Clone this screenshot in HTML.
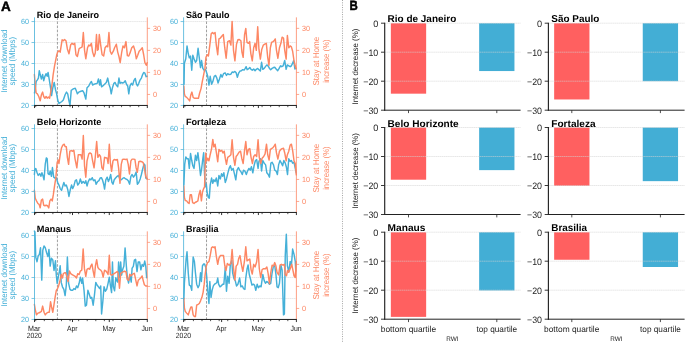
<!DOCTYPE html>
<html><head><meta charset="utf-8"><title>Figure</title>
<style>
html,body{margin:0;padding:0;background:#fff;}
body{width:685px;height:342px;overflow:hidden;}
svg{display:block;will-change:transform;text-rendering:geometricPrecision;font-family:"Liberation Sans",sans-serif;}
</style></head><body>
<svg width="685" height="342" viewBox="0 0 685 342">
<rect x="0" y="0" width="685" height="342" fill="#ffffff"/>
<text x="1.05" y="10.6" font-size="13.5" fill="#000" text-anchor="start" font-weight="bold" stroke="#000" stroke-width="0.5" stroke-linejoin="round">A</text>
<text x="0" y="9.9" font-size="13.5" font-weight="bold" stroke="#000" stroke-width="0.5" stroke-linejoin="round" transform="translate(349.45 0) scale(0.85 1)">B</text>
<line x1="34.5" y1="84.47" x2="147.3" y2="84.47" stroke="#d8d8d8" stroke-width="0.6" stroke-dasharray="1.5 0.4"/>
<line x1="34.5" y1="63.5" x2="147.3" y2="63.5" stroke="#d8d8d8" stroke-width="0.6" stroke-dasharray="1.5 0.4"/>
<line x1="34.5" y1="42.52" x2="147.3" y2="42.52" stroke="#d8d8d8" stroke-width="0.6" stroke-dasharray="1.5 0.4"/>
<line x1="34.5" y1="21.55" x2="147.3" y2="21.55" stroke="#d8d8d8" stroke-width="0.6" stroke-dasharray="1.5 0.4"/>
<line x1="57.43" y1="17.35" x2="57.43" y2="105.45" stroke="#808080" stroke-width="0.75" stroke-dasharray="2.6 1.5"/>
<polyline points="34.39,92.98 34.91,92.11 36.14,81.58 37.37,79.82 38.42,78.07 39.3,70.7 40.18,74.56 41.4,78.95 42.63,74.56 43.68,80.7 44.91,76.32 46.14,73.68 47.19,76.32 48.07,72.46 49.3,79.82 50.53,87.72 51.58,95.61 52.81,87.72 54.21,82.46 55.44,89.47 56.67,93.86 57.72,100.0 58.95,103.51 60.18,102.63 61.58,101.75 63.33,100.0 65.09,94.74 66.49,92.11 67.72,93.86 68.95,100.88 70.0,105.26 71.23,90.35 72.46,89.47 73.86,88.6 75.26,88.25 76.49,91.23 77.37,93.86 78.77,92.11 80.88,91.23 82.63,90.7 84.04,92.98 85.79,99.12 87.02,87.72 88.77,85.96 90.53,82.46 91.4,81.58 92.63,85.09 94.04,84.21 95.79,83.68 97.19,83.33 98.42,78.95 99.65,85.09 100.53,79.82 101.58,86.84 102.81,85.96 104.56,84.21 106.32,82.46 107.72,78.07 108.95,84.21 110.18,87.72 111.23,93.86 112.46,87.72 113.86,83.33 115.09,82.46 116.32,85.09 117.72,86.84 118.95,78.07 120.0,83.33 121.23,82.46 122.63,82.98 123.86,82.46 125.26,80.7 126.49,84.21 127.72,85.96 128.77,93.86 130.0,85.96 131.4,83.33 132.63,85.09 133.86,80.7 135.26,78.42 136.49,84.21 137.54,85.96 138.77,83.33 140.18,79.82 141.4,78.07 142.63,74.56 143.68,72.46 144.91,73.16 146.14,76.67 147.19,76.32" fill="none" stroke="#45b0d8" stroke-width="1.45" stroke-linejoin="round" stroke-linecap="round"/>
<polyline points="34.39,74.56 35.26,85.09 36.14,92.98 37.37,93.86 38.77,96.49 40.18,100.88 41.4,94.74 42.63,92.11 43.68,96.49 44.91,98.25 46.14,96.49 47.19,98.25 48.42,97.02 49.65,98.25 50.7,92.11 51.93,85.09 53.16,74.56 54.56,65.79 55.96,58.77 56.84,54.39 57.72,52.11 58.95,50.7 60.18,52.11 62.11,39.82 63.33,40.7 64.56,39.47 65.96,40.7 67.37,48.95 68.95,53.86 70.7,44.74 72.11,43.33 73.33,44.56 74.74,43.33 75.96,54.74 77.37,56.49 79.12,48.6 80.88,47.72 82.11,46.84 83.33,32.46 84.56,50.35 85.79,58.77 87.54,47.72 88.77,45.09 90.0,45.96 91.4,43.33 92.63,52.11 94.04,56.49 95.26,52.98 96.49,34.56 97.37,50.35 98.25,49.47 99.3,34.56 100.7,45.09 102.11,54.74 103.68,55.96 105.09,47.72 106.49,45.96 107.72,46.84 108.95,32.46 110.18,51.23 111.58,54.21 113.33,51.23 114.56,47.72 116.32,44.21 117.72,52.11 118.95,56.49 120.18,62.63 121.58,52.98 122.98,45.96 124.39,47.72 125.96,41.58 127.37,55.61 128.77,55.96 130.35,52.11 131.75,47.72 133.51,45.96 134.91,50.35 136.32,58.77 137.72,55.26 139.12,51.23 140.88,49.47 142.28,47.72 143.68,54.74 144.91,62.63 146.32,65.26 147.19,62.63" fill="none" stroke="#fd8764" stroke-width="1.45" stroke-linejoin="round" stroke-linecap="round"/>
<line x1="34.5" y1="17.35" x2="34.5" y2="105.45" stroke="#45b0d8" stroke-width="0.8"/>
<line x1="147.3" y1="17.35" x2="147.3" y2="105.45" stroke="#fd8764" stroke-width="0.8"/>
<line x1="34.0" y1="105.45" x2="147.70000000000002" y2="105.45" stroke="#1c1c1c" stroke-width="1.0"/>
<line x1="31.5" y1="105.45" x2="34.5" y2="105.45" stroke="#45b0d8" stroke-width="0.7"/>
<text x="28.95" y="108.25" font-size="7.6" fill="#45b0d8" text-anchor="end" textLength="8.0" lengthAdjust="spacingAndGlyphs">20</text>
<line x1="31.5" y1="84.47" x2="34.5" y2="84.47" stroke="#45b0d8" stroke-width="0.7"/>
<text x="28.95" y="87.27" font-size="7.6" fill="#45b0d8" text-anchor="end" textLength="8.0" lengthAdjust="spacingAndGlyphs">30</text>
<line x1="31.5" y1="63.5" x2="34.5" y2="63.5" stroke="#45b0d8" stroke-width="0.7"/>
<text x="28.95" y="66.3" font-size="7.6" fill="#45b0d8" text-anchor="end" textLength="8.0" lengthAdjust="spacingAndGlyphs">40</text>
<line x1="31.5" y1="42.52" x2="34.5" y2="42.52" stroke="#45b0d8" stroke-width="0.7"/>
<text x="28.95" y="45.32" font-size="7.6" fill="#45b0d8" text-anchor="end" textLength="8.0" lengthAdjust="spacingAndGlyphs">50</text>
<line x1="31.5" y1="21.55" x2="34.5" y2="21.55" stroke="#45b0d8" stroke-width="0.7"/>
<text x="28.95" y="24.35" font-size="7.6" fill="#45b0d8" text-anchor="end" textLength="8.0" lengthAdjust="spacingAndGlyphs">60</text>
<line x1="147.3" y1="94.44" x2="150.10000000000002" y2="94.44" stroke="#fd8764" stroke-width="0.7"/>
<text x="153.0" y="97.24" font-size="7.6" fill="#fd8764" text-anchor="start" textLength="4.1" lengthAdjust="spacingAndGlyphs">0</text>
<line x1="147.3" y1="72.41" x2="150.10000000000002" y2="72.41" stroke="#fd8764" stroke-width="0.7"/>
<text x="153.0" y="75.21" font-size="7.6" fill="#fd8764" text-anchor="start" textLength="8.0" lengthAdjust="spacingAndGlyphs">10</text>
<line x1="147.3" y1="50.39" x2="150.10000000000002" y2="50.39" stroke="#fd8764" stroke-width="0.7"/>
<text x="153.0" y="53.19" font-size="7.6" fill="#fd8764" text-anchor="start" textLength="8.0" lengthAdjust="spacingAndGlyphs">20</text>
<line x1="147.3" y1="28.36" x2="150.10000000000002" y2="28.36" stroke="#fd8764" stroke-width="0.7"/>
<text x="153.0" y="31.16" font-size="7.6" fill="#fd8764" text-anchor="start" textLength="8.0" lengthAdjust="spacingAndGlyphs">30</text>
<line x1="34.5" y1="105.45" x2="34.5" y2="108.05" stroke="#1c1c1c" stroke-width="0.9"/>
<line x1="72.51" y1="105.45" x2="72.51" y2="108.05" stroke="#1c1c1c" stroke-width="0.9"/>
<line x1="109.29" y1="105.45" x2="109.29" y2="108.05" stroke="#1c1c1c" stroke-width="0.9"/>
<line x1="147.3" y1="105.45" x2="147.3" y2="108.05" stroke="#1c1c1c" stroke-width="0.9"/>
<line x1="35.73" y1="105.45" x2="35.73" y2="107.15" stroke="#1c1c1c" stroke-width="0.75"/>
<line x1="44.31" y1="105.45" x2="44.31" y2="107.15" stroke="#1c1c1c" stroke-width="0.75"/>
<line x1="52.89" y1="105.45" x2="52.89" y2="107.15" stroke="#1c1c1c" stroke-width="0.75"/>
<line x1="61.47" y1="105.45" x2="61.47" y2="107.15" stroke="#1c1c1c" stroke-width="0.75"/>
<line x1="70.06" y1="105.45" x2="70.06" y2="107.15" stroke="#1c1c1c" stroke-width="0.75"/>
<line x1="78.64" y1="105.45" x2="78.64" y2="107.15" stroke="#1c1c1c" stroke-width="0.75"/>
<line x1="87.22" y1="105.45" x2="87.22" y2="107.15" stroke="#1c1c1c" stroke-width="0.75"/>
<line x1="95.8" y1="105.45" x2="95.8" y2="107.15" stroke="#1c1c1c" stroke-width="0.75"/>
<line x1="104.39" y1="105.45" x2="104.39" y2="107.15" stroke="#1c1c1c" stroke-width="0.75"/>
<line x1="112.97" y1="105.45" x2="112.97" y2="107.15" stroke="#1c1c1c" stroke-width="0.75"/>
<line x1="121.55" y1="105.45" x2="121.55" y2="107.15" stroke="#1c1c1c" stroke-width="0.75"/>
<line x1="130.13" y1="105.45" x2="130.13" y2="107.15" stroke="#1c1c1c" stroke-width="0.75"/>
<line x1="138.72" y1="105.45" x2="138.72" y2="107.15" stroke="#1c1c1c" stroke-width="0.75"/>
<text x="36.8" y="17.9" font-size="9.2" fill="#000" text-anchor="start" font-weight="bold" textLength="62.3" lengthAdjust="spacingAndGlyphs">Rio de Janeiro</text>
<line x1="183.6" y1="84.47" x2="296.4" y2="84.47" stroke="#d8d8d8" stroke-width="0.6" stroke-dasharray="1.5 0.4"/>
<line x1="183.6" y1="63.5" x2="296.4" y2="63.5" stroke="#d8d8d8" stroke-width="0.6" stroke-dasharray="1.5 0.4"/>
<line x1="183.6" y1="42.52" x2="296.4" y2="42.52" stroke="#d8d8d8" stroke-width="0.6" stroke-dasharray="1.5 0.4"/>
<line x1="183.6" y1="21.55" x2="296.4" y2="21.55" stroke="#d8d8d8" stroke-width="0.6" stroke-dasharray="1.5 0.4"/>
<line x1="206.53" y1="17.35" x2="206.53" y2="105.45" stroke="#808080" stroke-width="0.75" stroke-dasharray="2.6 1.5"/>
<polyline points="184.04,84.21 184.39,63.16 185.79,58.77 187.02,45.96 188.25,53.51 189.3,57.89 190.53,56.14 191.75,70.18 192.81,55.26 194.04,58.77 195.44,62.28 196.67,60.53 198.07,48.25 199.3,57.89 200.53,67.54 201.58,60.53 202.81,68.42 204.21,70.18 205.44,69.3 206.67,72.81 207.72,76.32 208.95,85.09 210.18,76.32 211.58,84.21 212.81,81.58 214.21,76.32 215.61,75.44 216.84,78.07 218.07,82.98 219.47,78.95 220.88,74.56 222.11,77.19 223.51,73.68 225.09,72.81 226.49,75.44 227.72,73.68 229.12,74.56 230.88,74.21 232.28,71.93 233.51,72.46 234.91,71.4 236.14,72.81 237.37,77.19 238.77,72.81 240.0,71.05 241.4,70.7 242.63,69.65 244.04,70.18 245.26,68.42 246.14,66.67 247.19,69.65 248.42,68.95 249.82,67.54 251.05,69.3 252.28,70.18 253.68,68.95 255.09,70.7 256.32,69.3 257.72,68.42 258.95,69.65 260.35,71.05 261.58,62.28 262.81,69.3 264.21,68.42 265.44,66.67 266.84,64.91 268.25,66.14 269.47,68.42 270.7,69.65 272.11,68.42 273.51,67.54 274.74,67.19 276.14,68.95 277.72,70.7 279.12,68.42 280.53,65.79 281.75,66.67 283.16,65.79 284.74,60.53 286.14,69.3 287.37,64.91 288.77,65.79 290.18,66.67 291.4,65.79 292.63,63.16 293.68,60.53 294.91,68.95 295.79,68.42" fill="none" stroke="#45b0d8" stroke-width="1.45" stroke-linejoin="round" stroke-linecap="round"/>
<polyline points="183.86,85.96 184.39,93.86 185.26,96.49 186.67,97.37 188.25,99.12 189.65,100.88 190.88,94.74 191.93,92.11 193.16,97.37 194.39,98.25 195.79,98.25 197.19,98.25 198.42,98.25 199.65,92.98 201.05,88.6 202.28,81.58 203.68,74.56 204.91,68.42 205.96,57.37 207.19,54.74 208.42,55.96 209.82,45.09 211.23,33.68 212.46,32.46 213.68,33.68 215.09,32.46 216.32,45.09 217.72,54.74 218.95,38.95 220.35,38.07 221.75,36.32 223.33,34.56 224.74,47.72 226.14,58.25 227.72,41.58 229.47,40.7 230.88,45.09 232.11,21.4 233.51,50.35 234.91,60.88 236.49,44.21 237.89,39.82 239.3,39.47 240.88,40.7 241.93,52.11 243.16,57.37 244.56,34.56 245.79,28.42 247.02,42.46 248.42,43.33 249.65,41.58 250.88,53.86 252.28,60.88 253.68,47.72 255.09,43.33 256.32,50.35 257.72,26.67 258.95,49.47 260.35,59.12 261.75,49.47 263.33,45.09 264.74,44.21 266.32,43.33 267.72,57.37 268.95,65.26 270.35,47.72 271.58,42.46 272.98,41.58 274.21,40.7 275.26,38.95 276.49,50.35 277.89,58.25 279.47,47.72 280.88,43.33 282.11,37.19 283.51,38.07 284.74,50.35 286.14,59.12 287.37,35.44 288.77,47.72 290.18,45.96 291.4,46.84 292.63,51.23 294.04,60.88 295.26,66.14 296.32,68.77" fill="none" stroke="#fd8764" stroke-width="1.45" stroke-linejoin="round" stroke-linecap="round"/>
<line x1="183.6" y1="17.35" x2="183.6" y2="105.45" stroke="#45b0d8" stroke-width="0.8"/>
<line x1="296.4" y1="17.35" x2="296.4" y2="105.45" stroke="#fd8764" stroke-width="0.8"/>
<line x1="183.1" y1="105.45" x2="296.79999999999995" y2="105.45" stroke="#1c1c1c" stroke-width="1.0"/>
<line x1="180.6" y1="105.45" x2="183.6" y2="105.45" stroke="#45b0d8" stroke-width="0.7"/>
<text x="178.05" y="108.25" font-size="7.6" fill="#45b0d8" text-anchor="end" textLength="8.0" lengthAdjust="spacingAndGlyphs">20</text>
<line x1="180.6" y1="84.47" x2="183.6" y2="84.47" stroke="#45b0d8" stroke-width="0.7"/>
<text x="178.05" y="87.27" font-size="7.6" fill="#45b0d8" text-anchor="end" textLength="8.0" lengthAdjust="spacingAndGlyphs">30</text>
<line x1="180.6" y1="63.5" x2="183.6" y2="63.5" stroke="#45b0d8" stroke-width="0.7"/>
<text x="178.05" y="66.3" font-size="7.6" fill="#45b0d8" text-anchor="end" textLength="8.0" lengthAdjust="spacingAndGlyphs">40</text>
<line x1="180.6" y1="42.52" x2="183.6" y2="42.52" stroke="#45b0d8" stroke-width="0.7"/>
<text x="178.05" y="45.32" font-size="7.6" fill="#45b0d8" text-anchor="end" textLength="8.0" lengthAdjust="spacingAndGlyphs">50</text>
<line x1="180.6" y1="21.55" x2="183.6" y2="21.55" stroke="#45b0d8" stroke-width="0.7"/>
<text x="178.05" y="24.35" font-size="7.6" fill="#45b0d8" text-anchor="end" textLength="8.0" lengthAdjust="spacingAndGlyphs">60</text>
<line x1="296.4" y1="94.44" x2="299.2" y2="94.44" stroke="#fd8764" stroke-width="0.7"/>
<text x="302.1" y="97.24" font-size="7.6" fill="#fd8764" text-anchor="start" textLength="4.1" lengthAdjust="spacingAndGlyphs">0</text>
<line x1="296.4" y1="72.41" x2="299.2" y2="72.41" stroke="#fd8764" stroke-width="0.7"/>
<text x="302.1" y="75.21" font-size="7.6" fill="#fd8764" text-anchor="start" textLength="8.0" lengthAdjust="spacingAndGlyphs">10</text>
<line x1="296.4" y1="50.39" x2="299.2" y2="50.39" stroke="#fd8764" stroke-width="0.7"/>
<text x="302.1" y="53.19" font-size="7.6" fill="#fd8764" text-anchor="start" textLength="8.0" lengthAdjust="spacingAndGlyphs">20</text>
<line x1="296.4" y1="28.36" x2="299.2" y2="28.36" stroke="#fd8764" stroke-width="0.7"/>
<text x="302.1" y="31.16" font-size="7.6" fill="#fd8764" text-anchor="start" textLength="8.0" lengthAdjust="spacingAndGlyphs">30</text>
<line x1="183.6" y1="105.45" x2="183.6" y2="108.05" stroke="#1c1c1c" stroke-width="0.9"/>
<line x1="221.61" y1="105.45" x2="221.61" y2="108.05" stroke="#1c1c1c" stroke-width="0.9"/>
<line x1="258.39" y1="105.45" x2="258.39" y2="108.05" stroke="#1c1c1c" stroke-width="0.9"/>
<line x1="296.4" y1="105.45" x2="296.4" y2="108.05" stroke="#1c1c1c" stroke-width="0.9"/>
<line x1="184.83" y1="105.45" x2="184.83" y2="107.15" stroke="#1c1c1c" stroke-width="0.75"/>
<line x1="193.41" y1="105.45" x2="193.41" y2="107.15" stroke="#1c1c1c" stroke-width="0.75"/>
<line x1="201.99" y1="105.45" x2="201.99" y2="107.15" stroke="#1c1c1c" stroke-width="0.75"/>
<line x1="210.57" y1="105.45" x2="210.57" y2="107.15" stroke="#1c1c1c" stroke-width="0.75"/>
<line x1="219.16" y1="105.45" x2="219.16" y2="107.15" stroke="#1c1c1c" stroke-width="0.75"/>
<line x1="227.74" y1="105.45" x2="227.74" y2="107.15" stroke="#1c1c1c" stroke-width="0.75"/>
<line x1="236.32" y1="105.45" x2="236.32" y2="107.15" stroke="#1c1c1c" stroke-width="0.75"/>
<line x1="244.9" y1="105.45" x2="244.9" y2="107.15" stroke="#1c1c1c" stroke-width="0.75"/>
<line x1="253.49" y1="105.45" x2="253.49" y2="107.15" stroke="#1c1c1c" stroke-width="0.75"/>
<line x1="262.07" y1="105.45" x2="262.07" y2="107.15" stroke="#1c1c1c" stroke-width="0.75"/>
<line x1="270.65" y1="105.45" x2="270.65" y2="107.15" stroke="#1c1c1c" stroke-width="0.75"/>
<line x1="279.23" y1="105.45" x2="279.23" y2="107.15" stroke="#1c1c1c" stroke-width="0.75"/>
<line x1="287.82" y1="105.45" x2="287.82" y2="107.15" stroke="#1c1c1c" stroke-width="0.75"/>
<text x="185.9" y="17.9" font-size="9.2" fill="#000" text-anchor="start" font-weight="bold" textLength="43.5" lengthAdjust="spacingAndGlyphs">São Paulo</text>
<text x="6.8" y="61.1" font-size="8.4" fill="#45b0d8" text-anchor="middle" textLength="63.2" lengthAdjust="spacingAndGlyphs" transform="rotate(-90 6.8 61.1)">Internet download</text>
<text x="15.0" y="61.1" font-size="8.4" fill="#45b0d8" text-anchor="middle" textLength="48.6" lengthAdjust="spacingAndGlyphs" transform="rotate(-90 15.0 61.1)">speed (Mbps)</text>
<text x="319.5" y="61.1" font-size="8.5" fill="#fd8764" text-anchor="middle" textLength="48.8" lengthAdjust="spacingAndGlyphs" transform="rotate(-90 319.5 61.1)">Stay at Home</text>
<text x="328.9" y="61.1" font-size="8.5" fill="#fd8764" text-anchor="middle" textLength="43.5" lengthAdjust="spacingAndGlyphs" transform="rotate(-90 328.9 61.1)">increase (%)</text>
<line x1="34.5" y1="191.47" x2="147.3" y2="191.47" stroke="#d8d8d8" stroke-width="0.6" stroke-dasharray="1.5 0.4"/>
<line x1="34.5" y1="170.5" x2="147.3" y2="170.5" stroke="#d8d8d8" stroke-width="0.6" stroke-dasharray="1.5 0.4"/>
<line x1="34.5" y1="149.52" x2="147.3" y2="149.52" stroke="#d8d8d8" stroke-width="0.6" stroke-dasharray="1.5 0.4"/>
<line x1="34.5" y1="128.55" x2="147.3" y2="128.55" stroke="#d8d8d8" stroke-width="0.6" stroke-dasharray="1.5 0.4"/>
<line x1="57.43" y1="124.35" x2="57.43" y2="212.45" stroke="#808080" stroke-width="0.75" stroke-dasharray="2.6 1.5"/>
<polyline points="34.39,174.54 34.91,169.28 35.79,168.4 37.02,172.44 38.25,175.42 39.65,173.67 40.88,176.3 41.93,172.79 43.16,176.3 44.04,179.81 45.26,164.02 46.32,157.88 47.19,158.75 48.07,173.67 49.3,174.54 50.18,171.04 51.4,176.3 52.46,167.53 53.68,177.18 54.91,178.05 56.32,177.7 57.72,182.44 58.95,185.07 60.18,188.58 61.58,190.33 62.81,185.95 63.86,182.44 65.09,185.95 66.32,185.07 67.72,189.46 68.95,196.47 70.35,189.46 71.58,185.07 72.63,188.58 73.86,185.95 75.26,180.68 76.49,179.81 77.72,185.07 79.12,183.32 80.35,178.93 81.75,183.32 83.16,181.56 84.74,183.32 85.79,180.68 87.02,185.95 88.25,181.56 89.65,178.93 90.88,179.81 92.28,177.7 93.51,180.68 94.91,179.81 96.14,184.19 97.54,181.56 98.95,180.68 100.18,178.05 101.4,177.7 102.46,179.81 103.68,184.19 104.56,189.11 105.79,179.81 107.19,177.18 108.42,181.56 109.47,178.93 110.7,174.54 111.93,182.44 112.98,184.19 114.21,179.81 115.61,178.05 117.19,176.3 118.6,175.42 119.82,178.93 121.23,179.81 122.63,178.4 124.21,177.7 125.61,178.93 127.02,179.46 128.25,180.68 129.65,184.19 130.88,176.3 132.11,174.54 133.51,177.18 134.74,175.42 136.14,171.91 137.37,184.19 138.77,182.44 140.18,178.93 141.4,174.54 142.63,169.28 144.04,164.02 144.91,164.89 145.79,178.05 147.19,178.93" fill="none" stroke="#45b0d8" stroke-width="1.45" stroke-linejoin="round" stroke-linecap="round"/>
<polyline points="34.39,190.33 35.26,198.23 36.49,200.86 37.89,203.49 39.12,204.37 40.18,207.88 41.4,199.98 42.63,199.11 43.68,205.25 44.91,205.77 46.14,205.25 47.54,205.77 48.77,207.88 49.82,200.86 51.05,199.11 52.28,200.86 53.33,194.72 54.56,185.95 55.79,178.05 56.84,166.12 57.19,162.61 58.07,159.98 58.95,163.49 60.18,154.72 61.58,147.7 62.81,145.07 64.21,144.19 65.09,146.47 66.32,146.82 67.37,157.35 68.6,164.37 69.82,151.21 71.23,150.68 72.63,151.21 73.86,150.33 75.09,159.11 76.84,167.88 78.25,154.72 79.65,154.72 80.88,154.72 82.11,159.11 83.33,135.42 84.56,166.12 85.79,177.18 87.02,160.86 88.77,153.84 90.0,152.96 91.4,153.84 92.63,160.86 94.04,167.88 95.26,157.35 96.67,141.56 97.89,157.35 99.3,154.72 100.53,156.47 101.93,167.88 103.16,169.63 104.56,157.35 105.79,157.7 107.19,158.23 108.07,163.49 109.3,144.19 110.35,162.61 111.58,171.39 112.98,160.86 114.21,159.46 115.96,159.98 117.37,159.46 118.6,167.88 120.0,183.32 121.23,164.37 122.46,159.46 123.86,159.11 125.61,159.46 127.02,159.11 128.25,164.37 129.47,174.02 130.88,160.86 132.11,159.11 133.51,159.11 134.91,159.46 136.14,167.88 137.37,172.26 138.77,161.74 140.18,161.21 141.75,161.74 143.16,162.61 144.39,167.88 145.79,176.3 147.19,178.93" fill="none" stroke="#fd8764" stroke-width="1.45" stroke-linejoin="round" stroke-linecap="round"/>
<line x1="34.5" y1="124.35" x2="34.5" y2="212.45" stroke="#45b0d8" stroke-width="0.8"/>
<line x1="147.3" y1="124.35" x2="147.3" y2="212.45" stroke="#fd8764" stroke-width="0.8"/>
<line x1="34.0" y1="212.45" x2="147.70000000000002" y2="212.45" stroke="#1c1c1c" stroke-width="1.0"/>
<line x1="31.5" y1="212.45" x2="34.5" y2="212.45" stroke="#45b0d8" stroke-width="0.7"/>
<text x="28.95" y="215.25" font-size="7.6" fill="#45b0d8" text-anchor="end" textLength="8.0" lengthAdjust="spacingAndGlyphs">20</text>
<line x1="31.5" y1="191.47" x2="34.5" y2="191.47" stroke="#45b0d8" stroke-width="0.7"/>
<text x="28.95" y="194.27" font-size="7.6" fill="#45b0d8" text-anchor="end" textLength="8.0" lengthAdjust="spacingAndGlyphs">30</text>
<line x1="31.5" y1="170.5" x2="34.5" y2="170.5" stroke="#45b0d8" stroke-width="0.7"/>
<text x="28.95" y="173.3" font-size="7.6" fill="#45b0d8" text-anchor="end" textLength="8.0" lengthAdjust="spacingAndGlyphs">40</text>
<line x1="31.5" y1="149.52" x2="34.5" y2="149.52" stroke="#45b0d8" stroke-width="0.7"/>
<text x="28.95" y="152.32" font-size="7.6" fill="#45b0d8" text-anchor="end" textLength="8.0" lengthAdjust="spacingAndGlyphs">50</text>
<line x1="31.5" y1="128.55" x2="34.5" y2="128.55" stroke="#45b0d8" stroke-width="0.7"/>
<text x="28.95" y="131.35" font-size="7.6" fill="#45b0d8" text-anchor="end" textLength="8.0" lengthAdjust="spacingAndGlyphs">60</text>
<line x1="147.3" y1="201.44" x2="150.10000000000002" y2="201.44" stroke="#fd8764" stroke-width="0.7"/>
<text x="153.0" y="204.24" font-size="7.6" fill="#fd8764" text-anchor="start" textLength="4.1" lengthAdjust="spacingAndGlyphs">0</text>
<line x1="147.3" y1="179.41" x2="150.10000000000002" y2="179.41" stroke="#fd8764" stroke-width="0.7"/>
<text x="153.0" y="182.21" font-size="7.6" fill="#fd8764" text-anchor="start" textLength="8.0" lengthAdjust="spacingAndGlyphs">10</text>
<line x1="147.3" y1="157.39" x2="150.10000000000002" y2="157.39" stroke="#fd8764" stroke-width="0.7"/>
<text x="153.0" y="160.19" font-size="7.6" fill="#fd8764" text-anchor="start" textLength="8.0" lengthAdjust="spacingAndGlyphs">20</text>
<line x1="147.3" y1="135.36" x2="150.10000000000002" y2="135.36" stroke="#fd8764" stroke-width="0.7"/>
<text x="153.0" y="138.16" font-size="7.6" fill="#fd8764" text-anchor="start" textLength="8.0" lengthAdjust="spacingAndGlyphs">30</text>
<line x1="34.5" y1="212.45" x2="34.5" y2="215.04999999999998" stroke="#1c1c1c" stroke-width="0.9"/>
<line x1="72.51" y1="212.45" x2="72.51" y2="215.04999999999998" stroke="#1c1c1c" stroke-width="0.9"/>
<line x1="109.29" y1="212.45" x2="109.29" y2="215.04999999999998" stroke="#1c1c1c" stroke-width="0.9"/>
<line x1="147.3" y1="212.45" x2="147.3" y2="215.04999999999998" stroke="#1c1c1c" stroke-width="0.9"/>
<line x1="35.73" y1="212.45" x2="35.73" y2="214.14999999999998" stroke="#1c1c1c" stroke-width="0.75"/>
<line x1="44.31" y1="212.45" x2="44.31" y2="214.14999999999998" stroke="#1c1c1c" stroke-width="0.75"/>
<line x1="52.89" y1="212.45" x2="52.89" y2="214.14999999999998" stroke="#1c1c1c" stroke-width="0.75"/>
<line x1="61.47" y1="212.45" x2="61.47" y2="214.14999999999998" stroke="#1c1c1c" stroke-width="0.75"/>
<line x1="70.06" y1="212.45" x2="70.06" y2="214.14999999999998" stroke="#1c1c1c" stroke-width="0.75"/>
<line x1="78.64" y1="212.45" x2="78.64" y2="214.14999999999998" stroke="#1c1c1c" stroke-width="0.75"/>
<line x1="87.22" y1="212.45" x2="87.22" y2="214.14999999999998" stroke="#1c1c1c" stroke-width="0.75"/>
<line x1="95.8" y1="212.45" x2="95.8" y2="214.14999999999998" stroke="#1c1c1c" stroke-width="0.75"/>
<line x1="104.39" y1="212.45" x2="104.39" y2="214.14999999999998" stroke="#1c1c1c" stroke-width="0.75"/>
<line x1="112.97" y1="212.45" x2="112.97" y2="214.14999999999998" stroke="#1c1c1c" stroke-width="0.75"/>
<line x1="121.55" y1="212.45" x2="121.55" y2="214.14999999999998" stroke="#1c1c1c" stroke-width="0.75"/>
<line x1="130.13" y1="212.45" x2="130.13" y2="214.14999999999998" stroke="#1c1c1c" stroke-width="0.75"/>
<line x1="138.72" y1="212.45" x2="138.72" y2="214.14999999999998" stroke="#1c1c1c" stroke-width="0.75"/>
<text x="36.8" y="124.9" font-size="9.2" fill="#000" text-anchor="start" font-weight="bold" textLength="64.5" lengthAdjust="spacingAndGlyphs">Belo Horizonte</text>
<line x1="183.6" y1="191.47" x2="296.4" y2="191.47" stroke="#d8d8d8" stroke-width="0.6" stroke-dasharray="1.5 0.4"/>
<line x1="183.6" y1="170.5" x2="296.4" y2="170.5" stroke="#d8d8d8" stroke-width="0.6" stroke-dasharray="1.5 0.4"/>
<line x1="183.6" y1="149.52" x2="296.4" y2="149.52" stroke="#d8d8d8" stroke-width="0.6" stroke-dasharray="1.5 0.4"/>
<line x1="183.6" y1="128.55" x2="296.4" y2="128.55" stroke="#d8d8d8" stroke-width="0.6" stroke-dasharray="1.5 0.4"/>
<line x1="206.53" y1="124.35" x2="206.53" y2="212.45" stroke="#808080" stroke-width="0.75" stroke-dasharray="2.6 1.5"/>
<polyline points="183.86,185.07 184.74,164.02 185.79,157.0 187.02,158.75 188.25,158.75 189.3,168.4 190.53,153.49 191.75,160.51 192.81,165.77 194.04,168.4 195.44,155.25 196.67,160.51 197.89,152.61 199.3,164.02 200.53,175.42 201.58,169.28 202.81,158.75 203.68,152.61 204.56,174.54 205.44,186.82 206.32,184.19 207.19,192.96 208.42,197.7 209.3,198.23 210.18,185.07 211.58,178.05 212.81,183.32 213.86,179.81 215.09,181.56 216.32,178.05 217.72,185.95 218.95,175.42 220.35,178.93 221.58,173.67 222.63,176.3 223.86,172.79 225.26,182.44 226.49,178.93 227.72,173.67 229.12,168.4 230.35,165.77 231.75,170.16 233.16,168.4 234.39,173.67 235.79,179.81 237.02,170.16 238.42,167.53 239.65,170.16 241.05,171.91 242.28,174.54 243.51,170.16 244.91,171.04 246.32,174.54 247.54,171.04 248.95,168.4 250.18,170.16 251.4,166.65 252.81,172.79 254.04,165.77 255.44,160.51 256.67,159.63 258.07,168.4 258.95,161.39 260.35,158.75 261.58,171.04 262.81,160.51 264.21,163.14 265.61,164.89 266.84,172.79 268.25,174.54 269.47,177.18 270.88,163.14 272.11,162.26 273.51,164.89 274.74,170.16 276.14,171.04 277.37,174.54 278.6,164.89 280.0,160.51 281.4,163.14 282.63,165.77 283.86,160.51 285.26,163.14 286.49,167.53 287.54,174.54 288.77,158.75 290.18,161.39 291.4,160.51 292.63,163.14 294.04,162.26 295.26,168.4 296.32,172.79" fill="none" stroke="#45b0d8" stroke-width="1.45" stroke-linejoin="round" stroke-linecap="round"/>
<polyline points="183.86,185.95 184.39,197.35 185.26,200.51 186.67,200.86 187.89,202.61 189.12,203.49 190.18,194.72 191.4,194.72 192.63,202.61 194.04,203.49 195.44,202.26 196.67,201.74 197.89,200.86 198.95,194.72 200.18,190.33 201.4,200.86 202.46,192.09 203.68,188.58 204.56,186.82 205.09,169.28 205.79,152.96 206.67,160.86 207.72,158.23 208.95,160.86 210.18,154.72 211.58,148.58 212.81,139.46 213.86,146.82 215.09,144.19 216.32,152.09 217.72,161.74 218.95,149.46 220.35,151.21 221.75,150.33 222.98,152.96 224.21,151.21 225.26,158.23 226.49,164.37 227.72,157.35 229.12,156.47 230.88,154.72 232.11,139.81 233.51,157.35 234.91,165.25 236.14,156.47 237.54,154.72 239.12,152.09 240.53,151.21 241.75,158.23 243.16,163.49 244.56,150.33 245.79,141.56 247.02,154.72 248.42,149.46 249.82,148.58 251.05,157.35 252.46,163.49 253.68,156.47 255.09,154.72 256.67,156.47 258.07,139.81 259.3,157.35 260.7,163.49 262.11,158.23 263.68,156.47 265.09,153.84 266.49,144.19 267.72,154.72 269.12,159.98 270.35,149.46 271.58,148.58 272.98,147.7 274.21,145.95 275.26,144.19 276.49,152.96 277.89,159.11 279.47,151.21 280.88,149.46 282.11,148.58 283.51,148.23 284.74,152.96 286.14,160.86 287.37,154.72 288.77,151.21 290.18,145.07 291.4,144.19 292.63,150.33 294.04,160.86 295.26,163.49 296.32,174.89" fill="none" stroke="#fd8764" stroke-width="1.45" stroke-linejoin="round" stroke-linecap="round"/>
<line x1="183.6" y1="124.35" x2="183.6" y2="212.45" stroke="#45b0d8" stroke-width="0.8"/>
<line x1="296.4" y1="124.35" x2="296.4" y2="212.45" stroke="#fd8764" stroke-width="0.8"/>
<line x1="183.1" y1="212.45" x2="296.79999999999995" y2="212.45" stroke="#1c1c1c" stroke-width="1.0"/>
<line x1="180.6" y1="212.45" x2="183.6" y2="212.45" stroke="#45b0d8" stroke-width="0.7"/>
<text x="178.05" y="215.25" font-size="7.6" fill="#45b0d8" text-anchor="end" textLength="8.0" lengthAdjust="spacingAndGlyphs">20</text>
<line x1="180.6" y1="191.47" x2="183.6" y2="191.47" stroke="#45b0d8" stroke-width="0.7"/>
<text x="178.05" y="194.27" font-size="7.6" fill="#45b0d8" text-anchor="end" textLength="8.0" lengthAdjust="spacingAndGlyphs">30</text>
<line x1="180.6" y1="170.5" x2="183.6" y2="170.5" stroke="#45b0d8" stroke-width="0.7"/>
<text x="178.05" y="173.3" font-size="7.6" fill="#45b0d8" text-anchor="end" textLength="8.0" lengthAdjust="spacingAndGlyphs">40</text>
<line x1="180.6" y1="149.52" x2="183.6" y2="149.52" stroke="#45b0d8" stroke-width="0.7"/>
<text x="178.05" y="152.32" font-size="7.6" fill="#45b0d8" text-anchor="end" textLength="8.0" lengthAdjust="spacingAndGlyphs">50</text>
<line x1="180.6" y1="128.55" x2="183.6" y2="128.55" stroke="#45b0d8" stroke-width="0.7"/>
<text x="178.05" y="131.35" font-size="7.6" fill="#45b0d8" text-anchor="end" textLength="8.0" lengthAdjust="spacingAndGlyphs">60</text>
<line x1="296.4" y1="201.44" x2="299.2" y2="201.44" stroke="#fd8764" stroke-width="0.7"/>
<text x="302.1" y="204.24" font-size="7.6" fill="#fd8764" text-anchor="start" textLength="4.1" lengthAdjust="spacingAndGlyphs">0</text>
<line x1="296.4" y1="179.41" x2="299.2" y2="179.41" stroke="#fd8764" stroke-width="0.7"/>
<text x="302.1" y="182.21" font-size="7.6" fill="#fd8764" text-anchor="start" textLength="8.0" lengthAdjust="spacingAndGlyphs">10</text>
<line x1="296.4" y1="157.39" x2="299.2" y2="157.39" stroke="#fd8764" stroke-width="0.7"/>
<text x="302.1" y="160.19" font-size="7.6" fill="#fd8764" text-anchor="start" textLength="8.0" lengthAdjust="spacingAndGlyphs">20</text>
<line x1="296.4" y1="135.36" x2="299.2" y2="135.36" stroke="#fd8764" stroke-width="0.7"/>
<text x="302.1" y="138.16" font-size="7.6" fill="#fd8764" text-anchor="start" textLength="8.0" lengthAdjust="spacingAndGlyphs">30</text>
<line x1="183.6" y1="212.45" x2="183.6" y2="215.04999999999998" stroke="#1c1c1c" stroke-width="0.9"/>
<line x1="221.61" y1="212.45" x2="221.61" y2="215.04999999999998" stroke="#1c1c1c" stroke-width="0.9"/>
<line x1="258.39" y1="212.45" x2="258.39" y2="215.04999999999998" stroke="#1c1c1c" stroke-width="0.9"/>
<line x1="296.4" y1="212.45" x2="296.4" y2="215.04999999999998" stroke="#1c1c1c" stroke-width="0.9"/>
<line x1="184.83" y1="212.45" x2="184.83" y2="214.14999999999998" stroke="#1c1c1c" stroke-width="0.75"/>
<line x1="193.41" y1="212.45" x2="193.41" y2="214.14999999999998" stroke="#1c1c1c" stroke-width="0.75"/>
<line x1="201.99" y1="212.45" x2="201.99" y2="214.14999999999998" stroke="#1c1c1c" stroke-width="0.75"/>
<line x1="210.57" y1="212.45" x2="210.57" y2="214.14999999999998" stroke="#1c1c1c" stroke-width="0.75"/>
<line x1="219.16" y1="212.45" x2="219.16" y2="214.14999999999998" stroke="#1c1c1c" stroke-width="0.75"/>
<line x1="227.74" y1="212.45" x2="227.74" y2="214.14999999999998" stroke="#1c1c1c" stroke-width="0.75"/>
<line x1="236.32" y1="212.45" x2="236.32" y2="214.14999999999998" stroke="#1c1c1c" stroke-width="0.75"/>
<line x1="244.9" y1="212.45" x2="244.9" y2="214.14999999999998" stroke="#1c1c1c" stroke-width="0.75"/>
<line x1="253.49" y1="212.45" x2="253.49" y2="214.14999999999998" stroke="#1c1c1c" stroke-width="0.75"/>
<line x1="262.07" y1="212.45" x2="262.07" y2="214.14999999999998" stroke="#1c1c1c" stroke-width="0.75"/>
<line x1="270.65" y1="212.45" x2="270.65" y2="214.14999999999998" stroke="#1c1c1c" stroke-width="0.75"/>
<line x1="279.23" y1="212.45" x2="279.23" y2="214.14999999999998" stroke="#1c1c1c" stroke-width="0.75"/>
<line x1="287.82" y1="212.45" x2="287.82" y2="214.14999999999998" stroke="#1c1c1c" stroke-width="0.75"/>
<text x="185.9" y="124.9" font-size="9.2" fill="#000" text-anchor="start" font-weight="bold" textLength="40.2" lengthAdjust="spacingAndGlyphs">Fortaleza</text>
<text x="6.8" y="168.1" font-size="8.4" fill="#45b0d8" text-anchor="middle" textLength="63.2" lengthAdjust="spacingAndGlyphs" transform="rotate(-90 6.8 168.1)">Internet download</text>
<text x="15.0" y="168.1" font-size="8.4" fill="#45b0d8" text-anchor="middle" textLength="48.6" lengthAdjust="spacingAndGlyphs" transform="rotate(-90 15.0 168.1)">speed (Mbps)</text>
<text x="319.5" y="168.1" font-size="8.5" fill="#fd8764" text-anchor="middle" textLength="48.8" lengthAdjust="spacingAndGlyphs" transform="rotate(-90 319.5 168.1)">Stay at Home</text>
<text x="328.9" y="168.1" font-size="8.5" fill="#fd8764" text-anchor="middle" textLength="43.5" lengthAdjust="spacingAndGlyphs" transform="rotate(-90 328.9 168.1)">increase (%)</text>
<line x1="34.5" y1="298.47" x2="147.3" y2="298.47" stroke="#d8d8d8" stroke-width="0.6" stroke-dasharray="1.5 0.4"/>
<line x1="34.5" y1="277.5" x2="147.3" y2="277.5" stroke="#d8d8d8" stroke-width="0.6" stroke-dasharray="1.5 0.4"/>
<line x1="34.5" y1="256.52" x2="147.3" y2="256.52" stroke="#d8d8d8" stroke-width="0.6" stroke-dasharray="1.5 0.4"/>
<line x1="34.5" y1="235.55" x2="147.3" y2="235.55" stroke="#d8d8d8" stroke-width="0.6" stroke-dasharray="1.5 0.4"/>
<line x1="57.43" y1="231.35" x2="57.43" y2="319.45" stroke="#808080" stroke-width="0.75" stroke-dasharray="2.6 1.5"/>
<polyline points="34.39,231.02 34.91,231.89 35.79,257.33 37.02,261.72 38.25,255.58 39.3,254.7 40.53,247.68 41.75,280.14 42.81,250.32 44.04,245.93 45.26,247.68 46.67,252.95 47.89,256.46 48.95,249.44 50.18,266.11 51.4,258.21 52.81,259.96 54.04,270.49 55.44,260.84 56.32,275.4 57.19,283.3 58.42,276.28 59.3,271.89 60.18,265.75 61.23,282.42 62.46,286.81 63.86,289.44 65.09,295.58 66.32,285.05 67.37,256.98 68.6,283.3 70.0,289.44 71.23,290.32 72.63,290.32 73.86,288.56 75.26,289.44 76.49,285.93 77.72,287.68 79.12,283.3 80.35,277.16 81.75,283.3 82.63,278.04 84.04,290.32 85.26,306.11 86.49,305.23 87.89,290.32 89.12,293.82 90.53,298.21 91.75,297.33 93.16,305.23 94.39,295.58 95.79,282.42 97.02,285.05 98.42,286.81 99.65,288.56 100.7,285.93 101.58,314.0 102.81,301.72 104.04,286.81 105.44,291.19 106.67,289.44 108.07,283.3 109.3,277.16 110.35,285.05 111.58,292.63 112.46,261.93 113.33,286.49 114.56,290.88 115.79,277.72 116.67,280.35 117.72,282.11 118.6,261.93 119.47,277.72 120.7,261.93 121.58,275.09 122.81,268.95 123.86,266.32 125.09,247.89 126.32,265.44 127.37,277.72 128.6,282.98 130.0,275.09 131.23,282.11 132.11,268.07 133.33,266.32 134.39,260.18 135.61,259.3 137.02,271.58 138.25,261.93 139.65,261.93 140.88,269.82 142.11,264.56 143.51,266.32 144.74,261.05 145.79,266.32 146.67,277.72" fill="none" stroke="#45b0d8" stroke-width="1.45" stroke-linejoin="round" stroke-linecap="round"/>
<polyline points="34.39,304.35 35.26,309.61 36.49,314.88 37.89,313.12 39.12,312.77 40.18,312.25 41.4,311.37 42.63,306.11 44.04,312.25 45.26,314.88 46.67,313.12 48.07,312.25 49.3,312.25 50.53,301.72 51.58,306.98 52.81,312.25 54.04,304.35 55.09,297.33 56.32,290.32 57.54,288.56 58.6,285.93 59.82,281.54 61.23,274.53 62.46,278.04 63.33,273.65 64.56,272.77 65.61,272.77 66.84,276.28 68.07,281.54 69.47,271.02 70.7,273.65 72.11,274.53 73.51,275.4 75.09,276.28 76.49,278.04 77.72,273.65 79.12,274.53 80.35,271.02 81.75,270.14 83.16,249.09 84.39,268.39 85.79,276.28 87.02,269.26 88.42,268.39 89.65,269.26 90.88,265.75 91.93,264.0 93.16,271.02 94.39,277.16 95.44,265.75 96.67,259.61 97.89,267.51 99.3,269.26 100.7,270.14 101.93,271.89 103.16,277.16 104.56,270.14 105.96,271.02 107.19,272.77 108.07,274.53 109.3,255.23 110.35,274.53 111.93,275.09 113.33,274.21 114.56,273.33 115.96,272.46 117.19,271.58 118.07,272.46 119.47,288.25 120.7,273.33 122.11,272.46 123.33,271.58 124.56,271.23 125.96,271.58 127.19,279.47 128.6,280.35 129.82,274.21 130.88,275.96 132.11,274.74 133.33,273.68 134.39,273.33 135.61,279.47 137.02,285.96 138.25,280.35 139.65,278.95 140.88,277.72 142.11,275.96 143.16,280.35 144.39,284.74 145.79,285.96 147.02,285.96" fill="none" stroke="#fd8764" stroke-width="1.45" stroke-linejoin="round" stroke-linecap="round"/>
<line x1="34.5" y1="231.35" x2="34.5" y2="319.45" stroke="#45b0d8" stroke-width="0.8"/>
<line x1="147.3" y1="231.35" x2="147.3" y2="319.45" stroke="#fd8764" stroke-width="0.8"/>
<line x1="34.0" y1="319.45" x2="147.70000000000002" y2="319.45" stroke="#1c1c1c" stroke-width="1.0"/>
<line x1="31.5" y1="319.45" x2="34.5" y2="319.45" stroke="#45b0d8" stroke-width="0.7"/>
<text x="28.95" y="322.25" font-size="7.6" fill="#45b0d8" text-anchor="end" textLength="8.0" lengthAdjust="spacingAndGlyphs">20</text>
<line x1="31.5" y1="298.47" x2="34.5" y2="298.47" stroke="#45b0d8" stroke-width="0.7"/>
<text x="28.95" y="301.27" font-size="7.6" fill="#45b0d8" text-anchor="end" textLength="8.0" lengthAdjust="spacingAndGlyphs">30</text>
<line x1="31.5" y1="277.5" x2="34.5" y2="277.5" stroke="#45b0d8" stroke-width="0.7"/>
<text x="28.95" y="280.3" font-size="7.6" fill="#45b0d8" text-anchor="end" textLength="8.0" lengthAdjust="spacingAndGlyphs">40</text>
<line x1="31.5" y1="256.52" x2="34.5" y2="256.52" stroke="#45b0d8" stroke-width="0.7"/>
<text x="28.95" y="259.32" font-size="7.6" fill="#45b0d8" text-anchor="end" textLength="8.0" lengthAdjust="spacingAndGlyphs">50</text>
<line x1="31.5" y1="235.55" x2="34.5" y2="235.55" stroke="#45b0d8" stroke-width="0.7"/>
<text x="28.95" y="238.35" font-size="7.6" fill="#45b0d8" text-anchor="end" textLength="8.0" lengthAdjust="spacingAndGlyphs">60</text>
<line x1="147.3" y1="308.44" x2="150.10000000000002" y2="308.44" stroke="#fd8764" stroke-width="0.7"/>
<text x="153.0" y="311.24" font-size="7.6" fill="#fd8764" text-anchor="start" textLength="4.1" lengthAdjust="spacingAndGlyphs">0</text>
<line x1="147.3" y1="286.41" x2="150.10000000000002" y2="286.41" stroke="#fd8764" stroke-width="0.7"/>
<text x="153.0" y="289.21" font-size="7.6" fill="#fd8764" text-anchor="start" textLength="8.0" lengthAdjust="spacingAndGlyphs">10</text>
<line x1="147.3" y1="264.39" x2="150.10000000000002" y2="264.39" stroke="#fd8764" stroke-width="0.7"/>
<text x="153.0" y="267.19" font-size="7.6" fill="#fd8764" text-anchor="start" textLength="8.0" lengthAdjust="spacingAndGlyphs">20</text>
<line x1="147.3" y1="242.36" x2="150.10000000000002" y2="242.36" stroke="#fd8764" stroke-width="0.7"/>
<text x="153.0" y="245.16" font-size="7.6" fill="#fd8764" text-anchor="start" textLength="8.0" lengthAdjust="spacingAndGlyphs">30</text>
<line x1="34.5" y1="319.45" x2="34.5" y2="322.05" stroke="#1c1c1c" stroke-width="0.9"/>
<line x1="72.51" y1="319.45" x2="72.51" y2="322.05" stroke="#1c1c1c" stroke-width="0.9"/>
<line x1="109.29" y1="319.45" x2="109.29" y2="322.05" stroke="#1c1c1c" stroke-width="0.9"/>
<line x1="147.3" y1="319.45" x2="147.3" y2="322.05" stroke="#1c1c1c" stroke-width="0.9"/>
<line x1="35.73" y1="319.45" x2="35.73" y2="321.15" stroke="#1c1c1c" stroke-width="0.75"/>
<line x1="44.31" y1="319.45" x2="44.31" y2="321.15" stroke="#1c1c1c" stroke-width="0.75"/>
<line x1="52.89" y1="319.45" x2="52.89" y2="321.15" stroke="#1c1c1c" stroke-width="0.75"/>
<line x1="61.47" y1="319.45" x2="61.47" y2="321.15" stroke="#1c1c1c" stroke-width="0.75"/>
<line x1="70.06" y1="319.45" x2="70.06" y2="321.15" stroke="#1c1c1c" stroke-width="0.75"/>
<line x1="78.64" y1="319.45" x2="78.64" y2="321.15" stroke="#1c1c1c" stroke-width="0.75"/>
<line x1="87.22" y1="319.45" x2="87.22" y2="321.15" stroke="#1c1c1c" stroke-width="0.75"/>
<line x1="95.8" y1="319.45" x2="95.8" y2="321.15" stroke="#1c1c1c" stroke-width="0.75"/>
<line x1="104.39" y1="319.45" x2="104.39" y2="321.15" stroke="#1c1c1c" stroke-width="0.75"/>
<line x1="112.97" y1="319.45" x2="112.97" y2="321.15" stroke="#1c1c1c" stroke-width="0.75"/>
<line x1="121.55" y1="319.45" x2="121.55" y2="321.15" stroke="#1c1c1c" stroke-width="0.75"/>
<line x1="130.13" y1="319.45" x2="130.13" y2="321.15" stroke="#1c1c1c" stroke-width="0.75"/>
<line x1="138.72" y1="319.45" x2="138.72" y2="321.15" stroke="#1c1c1c" stroke-width="0.75"/>
<text x="36.8" y="231.9" font-size="9.2" fill="#000" text-anchor="start" font-weight="bold" textLength="34.3" lengthAdjust="spacingAndGlyphs">Manaus</text>
<text x="34.2" y="330.5" font-size="7.5" fill="#1c1c1c" text-anchor="middle" textLength="12.3" lengthAdjust="spacingAndGlyphs">Mar</text>
<text x="72.21000000000001" y="330.5" font-size="7.5" fill="#1c1c1c" text-anchor="middle" textLength="10.6" lengthAdjust="spacingAndGlyphs">Apr</text>
<text x="108.99000000000001" y="330.5" font-size="7.5" fill="#1c1c1c" text-anchor="middle" textLength="13.0" lengthAdjust="spacingAndGlyphs">May</text>
<text x="147.0" y="330.5" font-size="7.5" fill="#1c1c1c" text-anchor="middle" textLength="11.2" lengthAdjust="spacingAndGlyphs">Jun</text>
<text x="34.3" y="338.35" font-size="7.5" fill="#1c1c1c" text-anchor="middle" textLength="15.2" lengthAdjust="spacingAndGlyphs">2020</text>
<line x1="183.6" y1="298.47" x2="296.4" y2="298.47" stroke="#d8d8d8" stroke-width="0.6" stroke-dasharray="1.5 0.4"/>
<line x1="183.6" y1="277.5" x2="296.4" y2="277.5" stroke="#d8d8d8" stroke-width="0.6" stroke-dasharray="1.5 0.4"/>
<line x1="183.6" y1="256.52" x2="296.4" y2="256.52" stroke="#d8d8d8" stroke-width="0.6" stroke-dasharray="1.5 0.4"/>
<line x1="183.6" y1="235.55" x2="296.4" y2="235.55" stroke="#d8d8d8" stroke-width="0.6" stroke-dasharray="1.5 0.4"/>
<line x1="206.53" y1="231.35" x2="206.53" y2="319.45" stroke="#808080" stroke-width="0.75" stroke-dasharray="2.6 1.5"/>
<polyline points="183.86,299.09 184.39,283.3 184.91,276.28 186.14,258.74 187.02,251.72 188.25,272.77 189.3,285.05 190.53,285.93 191.75,290.32 192.28,274.53 193.16,256.98 194.39,261.37 195.44,272.77 196.67,284.18 198.07,287.68 199.3,285.05 200.53,272.77 201.4,281.54 202.46,265.75 203.68,264.0 204.56,264.0 205.79,267.51 206.67,276.28 207.72,290.32 208.95,303.47 209.82,281.54 211.05,297.33 212.11,290.32 213.33,285.93 214.56,284.18 215.96,283.3 216.84,282.42 217.72,278.04 218.6,284.18 220.0,286.81 221.23,285.93 222.63,284.18 223.86,284.18 225.26,267.51 226.49,291.19 227.72,276.28 229.12,283.3 230.35,264.0 231.75,260.49 232.63,272.77 234.04,278.91 235.26,280.67 236.49,285.93 237.89,284.18 239.65,278.04 240.88,286.81 242.28,285.93 243.51,288.56 244.91,289.44 245.79,278.04 247.02,269.26 248.07,264.88 249.3,274.53 250.7,279.79 251.93,285.05 253.33,284.18 254.56,285.05 255.79,290.32 257.19,284.18 258.42,287.68 259.82,285.93 261.05,286.81 261.58,283.3 262.81,274.53 264.21,280.67 265.44,283.3 266.84,281.54 268.07,282.42 269.47,284.18 270.7,283.3 272.11,272.77 273.33,266.63 274.74,265.75 275.96,274.53 277.02,286.81 278.25,287.68 279.47,283.3 280.88,264.88 282.11,270.14 283.51,314.88 284.39,314.0 285.26,255.23 286.32,234.18 287.37,265.75 288.77,271.89 290.18,261.37 291.4,265.75 292.63,249.09 294.04,254.35 295.26,261.37 295.79,271.02" fill="none" stroke="#45b0d8" stroke-width="1.45" stroke-linejoin="round" stroke-linecap="round"/>
<polyline points="183.86,298.21 184.39,307.86 185.26,311.37 186.67,313.12 188.25,314.88 189.65,310.49 190.88,306.98 191.93,306.98 193.16,314.88 194.39,316.63 195.44,316.63 196.67,305.23 198.07,304.35 199.3,303.47 200.53,300.84 201.93,297.33 203.16,292.07 204.21,284.18 205.09,274.88 206.32,266.11 207.54,262.6 208.95,261.72 210.18,255.58 211.58,247.68 212.81,246.81 214.21,247.68 215.09,246.81 216.32,256.46 217.72,264.35 218.95,258.21 220.35,255.58 222.11,255.58 223.51,255.58 224.74,265.23 225.96,270.49 227.37,263.47 229.12,265.23 230.88,263.47 232.11,249.44 233.51,267.86 234.91,280.14 236.14,266.11 237.54,264.35 238.77,258.21 240.0,255.58 241.4,264.35 242.81,271.37 244.39,261.72 245.79,246.81 247.02,260.84 248.42,259.96 249.82,259.09 251.05,269.61 252.28,274.0 253.68,264.35 255.09,266.98 256.67,261.72 258.07,249.44 259.3,268.74 260.7,277.51 262.11,269.61 263.68,268.74 265.44,268.74 266.84,266.98 268.07,273.12 269.47,283.65 270.7,273.12 272.11,265.23 273.51,266.11 274.74,262.6 275.96,266.11 277.02,272.25 278.6,274.88 280.0,265.23 281.4,264.35 282.98,265.23 284.39,264.35 285.26,274.88 286.49,275.75 287.54,270.49 288.77,272.25 290.18,268.74 291.75,264.35 292.81,269.61 294.04,275.75 295.26,277.51 296.32,261.72" fill="none" stroke="#fd8764" stroke-width="1.45" stroke-linejoin="round" stroke-linecap="round"/>
<line x1="183.6" y1="231.35" x2="183.6" y2="319.45" stroke="#45b0d8" stroke-width="0.8"/>
<line x1="296.4" y1="231.35" x2="296.4" y2="319.45" stroke="#fd8764" stroke-width="0.8"/>
<line x1="183.1" y1="319.45" x2="296.79999999999995" y2="319.45" stroke="#1c1c1c" stroke-width="1.0"/>
<line x1="180.6" y1="319.45" x2="183.6" y2="319.45" stroke="#45b0d8" stroke-width="0.7"/>
<text x="178.05" y="322.25" font-size="7.6" fill="#45b0d8" text-anchor="end" textLength="8.0" lengthAdjust="spacingAndGlyphs">20</text>
<line x1="180.6" y1="298.47" x2="183.6" y2="298.47" stroke="#45b0d8" stroke-width="0.7"/>
<text x="178.05" y="301.27" font-size="7.6" fill="#45b0d8" text-anchor="end" textLength="8.0" lengthAdjust="spacingAndGlyphs">30</text>
<line x1="180.6" y1="277.5" x2="183.6" y2="277.5" stroke="#45b0d8" stroke-width="0.7"/>
<text x="178.05" y="280.3" font-size="7.6" fill="#45b0d8" text-anchor="end" textLength="8.0" lengthAdjust="spacingAndGlyphs">40</text>
<line x1="180.6" y1="256.52" x2="183.6" y2="256.52" stroke="#45b0d8" stroke-width="0.7"/>
<text x="178.05" y="259.32" font-size="7.6" fill="#45b0d8" text-anchor="end" textLength="8.0" lengthAdjust="spacingAndGlyphs">50</text>
<line x1="180.6" y1="235.55" x2="183.6" y2="235.55" stroke="#45b0d8" stroke-width="0.7"/>
<text x="178.05" y="238.35" font-size="7.6" fill="#45b0d8" text-anchor="end" textLength="8.0" lengthAdjust="spacingAndGlyphs">60</text>
<line x1="296.4" y1="308.44" x2="299.2" y2="308.44" stroke="#fd8764" stroke-width="0.7"/>
<text x="302.1" y="311.24" font-size="7.6" fill="#fd8764" text-anchor="start" textLength="4.1" lengthAdjust="spacingAndGlyphs">0</text>
<line x1="296.4" y1="286.41" x2="299.2" y2="286.41" stroke="#fd8764" stroke-width="0.7"/>
<text x="302.1" y="289.21" font-size="7.6" fill="#fd8764" text-anchor="start" textLength="8.0" lengthAdjust="spacingAndGlyphs">10</text>
<line x1="296.4" y1="264.39" x2="299.2" y2="264.39" stroke="#fd8764" stroke-width="0.7"/>
<text x="302.1" y="267.19" font-size="7.6" fill="#fd8764" text-anchor="start" textLength="8.0" lengthAdjust="spacingAndGlyphs">20</text>
<line x1="296.4" y1="242.36" x2="299.2" y2="242.36" stroke="#fd8764" stroke-width="0.7"/>
<text x="302.1" y="245.16" font-size="7.6" fill="#fd8764" text-anchor="start" textLength="8.0" lengthAdjust="spacingAndGlyphs">30</text>
<line x1="183.6" y1="319.45" x2="183.6" y2="322.05" stroke="#1c1c1c" stroke-width="0.9"/>
<line x1="221.61" y1="319.45" x2="221.61" y2="322.05" stroke="#1c1c1c" stroke-width="0.9"/>
<line x1="258.39" y1="319.45" x2="258.39" y2="322.05" stroke="#1c1c1c" stroke-width="0.9"/>
<line x1="296.4" y1="319.45" x2="296.4" y2="322.05" stroke="#1c1c1c" stroke-width="0.9"/>
<line x1="184.83" y1="319.45" x2="184.83" y2="321.15" stroke="#1c1c1c" stroke-width="0.75"/>
<line x1="193.41" y1="319.45" x2="193.41" y2="321.15" stroke="#1c1c1c" stroke-width="0.75"/>
<line x1="201.99" y1="319.45" x2="201.99" y2="321.15" stroke="#1c1c1c" stroke-width="0.75"/>
<line x1="210.57" y1="319.45" x2="210.57" y2="321.15" stroke="#1c1c1c" stroke-width="0.75"/>
<line x1="219.16" y1="319.45" x2="219.16" y2="321.15" stroke="#1c1c1c" stroke-width="0.75"/>
<line x1="227.74" y1="319.45" x2="227.74" y2="321.15" stroke="#1c1c1c" stroke-width="0.75"/>
<line x1="236.32" y1="319.45" x2="236.32" y2="321.15" stroke="#1c1c1c" stroke-width="0.75"/>
<line x1="244.9" y1="319.45" x2="244.9" y2="321.15" stroke="#1c1c1c" stroke-width="0.75"/>
<line x1="253.49" y1="319.45" x2="253.49" y2="321.15" stroke="#1c1c1c" stroke-width="0.75"/>
<line x1="262.07" y1="319.45" x2="262.07" y2="321.15" stroke="#1c1c1c" stroke-width="0.75"/>
<line x1="270.65" y1="319.45" x2="270.65" y2="321.15" stroke="#1c1c1c" stroke-width="0.75"/>
<line x1="279.23" y1="319.45" x2="279.23" y2="321.15" stroke="#1c1c1c" stroke-width="0.75"/>
<line x1="287.82" y1="319.45" x2="287.82" y2="321.15" stroke="#1c1c1c" stroke-width="0.75"/>
<text x="185.9" y="231.9" font-size="9.2" fill="#000" text-anchor="start" font-weight="bold" textLength="32.5" lengthAdjust="spacingAndGlyphs">Brasilia</text>
<text x="183.29999999999998" y="330.5" font-size="7.5" fill="#1c1c1c" text-anchor="middle" textLength="12.3" lengthAdjust="spacingAndGlyphs">Mar</text>
<text x="221.31" y="330.5" font-size="7.5" fill="#1c1c1c" text-anchor="middle" textLength="10.6" lengthAdjust="spacingAndGlyphs">Apr</text>
<text x="258.09" y="330.5" font-size="7.5" fill="#1c1c1c" text-anchor="middle" textLength="13.0" lengthAdjust="spacingAndGlyphs">May</text>
<text x="296.09999999999997" y="330.5" font-size="7.5" fill="#1c1c1c" text-anchor="middle" textLength="11.2" lengthAdjust="spacingAndGlyphs">Jun</text>
<text x="183.4" y="338.35" font-size="7.5" fill="#1c1c1c" text-anchor="middle" textLength="15.2" lengthAdjust="spacingAndGlyphs">2020</text>
<text x="6.8" y="275.1" font-size="8.4" fill="#45b0d8" text-anchor="middle" textLength="63.2" lengthAdjust="spacingAndGlyphs" transform="rotate(-90 6.8 275.1)">Internet download</text>
<text x="15.0" y="275.1" font-size="8.4" fill="#45b0d8" text-anchor="middle" textLength="48.6" lengthAdjust="spacingAndGlyphs" transform="rotate(-90 15.0 275.1)">speed (Mbps)</text>
<text x="319.5" y="275.1" font-size="8.5" fill="#fd8764" text-anchor="middle" textLength="48.8" lengthAdjust="spacingAndGlyphs" transform="rotate(-90 319.5 275.1)">Stay at Home</text>
<text x="328.9" y="275.1" font-size="8.5" fill="#fd8764" text-anchor="middle" textLength="43.5" lengthAdjust="spacingAndGlyphs" transform="rotate(-90 328.9 275.1)">increase (%)</text>
<line x1="342.5" y1="0" x2="342.5" y2="342" stroke="#9a9a9a" stroke-width="0.9" stroke-dasharray="1 1.35"/>
<rect x="390.85" y="23.2" width="35.3" height="70.47" fill="#ff6060"/>
<rect x="479.15" y="23.2" width="35.3" height="47.85" fill="#43aed5"/>
<line x1="384.7" y1="23.2" x2="520.6" y2="23.2" stroke="#d2d2d2" stroke-width="0.6" stroke-dasharray="1.5 0.4" stroke-opacity="0.9"/>
<line x1="384.7" y1="52.2" x2="520.6" y2="52.2" stroke="#d2d2d2" stroke-width="0.6" stroke-dasharray="1.5 0.4" stroke-opacity="0.9"/>
<line x1="384.7" y1="81.2" x2="520.6" y2="81.2" stroke="#d2d2d2" stroke-width="0.6" stroke-dasharray="1.5 0.4" stroke-opacity="0.9"/>
<line x1="384.7" y1="22.75" x2="384.7" y2="110.7" stroke="#222222" stroke-width="1.15"/>
<line x1="384.2" y1="110.2" x2="520.6" y2="110.2" stroke="#222222" stroke-width="1.0"/>
<line x1="381.0" y1="23.2" x2="384.7" y2="23.2" stroke="#222222" stroke-width="0.9"/>
<text x="378.3" y="26.5" font-size="9.3" fill="#262626" text-anchor="end" textLength="5.1" lengthAdjust="spacingAndGlyphs">0</text>
<line x1="381.0" y1="52.2" x2="384.7" y2="52.2" stroke="#222222" stroke-width="0.9"/>
<text x="378.3" y="55.5" font-size="9.3" fill="#262626" text-anchor="end" textLength="15.0" lengthAdjust="spacingAndGlyphs">−10</text>
<line x1="381.0" y1="81.2" x2="384.7" y2="81.2" stroke="#222222" stroke-width="0.9"/>
<text x="378.3" y="84.5" font-size="9.3" fill="#262626" text-anchor="end" textLength="15.0" lengthAdjust="spacingAndGlyphs">−20</text>
<line x1="381.0" y1="110.2" x2="384.7" y2="110.2" stroke="#222222" stroke-width="0.9"/>
<text x="378.3" y="113.5" font-size="9.3" fill="#262626" text-anchor="end" textLength="15.0" lengthAdjust="spacingAndGlyphs">−30</text>
<line x1="408.5" y1="110.2" x2="408.5" y2="113.10000000000001" stroke="#222222" stroke-width="0.8"/>
<line x1="496.8" y1="110.2" x2="496.8" y2="113.10000000000001" stroke="#222222" stroke-width="0.8"/>
<text x="387.6" y="22.3" font-size="10.0" fill="#000" text-anchor="start" font-weight="bold" textLength="68.7" lengthAdjust="spacingAndGlyphs">Rio de Janeiro</text>
<rect x="554.15" y="23.2" width="35.3" height="76.27" fill="#ff6060"/>
<rect x="642.75" y="23.2" width="35.3" height="58.0" fill="#43aed5"/>
<line x1="548.4" y1="23.2" x2="684.6" y2="23.2" stroke="#d2d2d2" stroke-width="0.6" stroke-dasharray="1.5 0.4" stroke-opacity="0.9"/>
<line x1="548.4" y1="52.2" x2="684.6" y2="52.2" stroke="#d2d2d2" stroke-width="0.6" stroke-dasharray="1.5 0.4" stroke-opacity="0.9"/>
<line x1="548.4" y1="81.2" x2="684.6" y2="81.2" stroke="#d2d2d2" stroke-width="0.6" stroke-dasharray="1.5 0.4" stroke-opacity="0.9"/>
<line x1="548.4" y1="22.75" x2="548.4" y2="110.7" stroke="#222222" stroke-width="1.15"/>
<line x1="547.9" y1="110.2" x2="684.6" y2="110.2" stroke="#222222" stroke-width="1.0"/>
<line x1="544.6999999999999" y1="23.2" x2="548.4" y2="23.2" stroke="#222222" stroke-width="0.9"/>
<text x="542.0" y="26.5" font-size="9.3" fill="#262626" text-anchor="end" textLength="5.1" lengthAdjust="spacingAndGlyphs">0</text>
<line x1="544.6999999999999" y1="52.2" x2="548.4" y2="52.2" stroke="#222222" stroke-width="0.9"/>
<text x="542.0" y="55.5" font-size="9.3" fill="#262626" text-anchor="end" textLength="15.0" lengthAdjust="spacingAndGlyphs">−10</text>
<line x1="544.6999999999999" y1="81.2" x2="548.4" y2="81.2" stroke="#222222" stroke-width="0.9"/>
<text x="542.0" y="84.5" font-size="9.3" fill="#262626" text-anchor="end" textLength="15.0" lengthAdjust="spacingAndGlyphs">−20</text>
<line x1="544.6999999999999" y1="110.2" x2="548.4" y2="110.2" stroke="#222222" stroke-width="0.9"/>
<text x="542.0" y="113.5" font-size="9.3" fill="#262626" text-anchor="end" textLength="15.0" lengthAdjust="spacingAndGlyphs">−30</text>
<line x1="571.8" y1="110.2" x2="571.8" y2="113.10000000000001" stroke="#222222" stroke-width="0.8"/>
<line x1="660.4" y1="110.2" x2="660.4" y2="113.10000000000001" stroke="#222222" stroke-width="0.8"/>
<text x="551.3" y="22.3" font-size="10.0" fill="#000" text-anchor="start" font-weight="bold" textLength="48.0" lengthAdjust="spacingAndGlyphs">São Paulo</text>
<text x="357.6" y="66.6" font-size="8.2" fill="#222" text-anchor="middle" textLength="75.8" lengthAdjust="spacingAndGlyphs" transform="rotate(-90 357.6 66.6)">Internet decrease (%)</text>
<rect x="390.85" y="127.5" width="35.3" height="52.2" fill="#ff6060"/>
<rect x="479.15" y="127.5" width="35.3" height="42.63" fill="#43aed5"/>
<line x1="384.7" y1="127.5" x2="520.6" y2="127.5" stroke="#d2d2d2" stroke-width="0.6" stroke-dasharray="1.5 0.4" stroke-opacity="0.9"/>
<line x1="384.7" y1="156.5" x2="520.6" y2="156.5" stroke="#d2d2d2" stroke-width="0.6" stroke-dasharray="1.5 0.4" stroke-opacity="0.9"/>
<line x1="384.7" y1="185.5" x2="520.6" y2="185.5" stroke="#d2d2d2" stroke-width="0.6" stroke-dasharray="1.5 0.4" stroke-opacity="0.9"/>
<line x1="384.7" y1="127.05" x2="384.7" y2="215.0" stroke="#222222" stroke-width="1.15"/>
<line x1="384.2" y1="214.5" x2="520.6" y2="214.5" stroke="#222222" stroke-width="1.0"/>
<line x1="381.0" y1="127.5" x2="384.7" y2="127.5" stroke="#222222" stroke-width="0.9"/>
<text x="378.3" y="130.8" font-size="9.3" fill="#262626" text-anchor="end" textLength="5.1" lengthAdjust="spacingAndGlyphs">0</text>
<line x1="381.0" y1="156.5" x2="384.7" y2="156.5" stroke="#222222" stroke-width="0.9"/>
<text x="378.3" y="159.8" font-size="9.3" fill="#262626" text-anchor="end" textLength="15.0" lengthAdjust="spacingAndGlyphs">−10</text>
<line x1="381.0" y1="185.5" x2="384.7" y2="185.5" stroke="#222222" stroke-width="0.9"/>
<text x="378.3" y="188.8" font-size="9.3" fill="#262626" text-anchor="end" textLength="15.0" lengthAdjust="spacingAndGlyphs">−20</text>
<line x1="381.0" y1="214.5" x2="384.7" y2="214.5" stroke="#222222" stroke-width="0.9"/>
<text x="378.3" y="217.8" font-size="9.3" fill="#262626" text-anchor="end" textLength="15.0" lengthAdjust="spacingAndGlyphs">−30</text>
<line x1="408.5" y1="214.5" x2="408.5" y2="217.4" stroke="#222222" stroke-width="0.8"/>
<line x1="496.8" y1="214.5" x2="496.8" y2="217.4" stroke="#222222" stroke-width="0.8"/>
<text x="387.6" y="126.6" font-size="10.0" fill="#000" text-anchor="start" font-weight="bold" textLength="71.1" lengthAdjust="spacingAndGlyphs">Belo Horizonte</text>
<rect x="554.15" y="127.5" width="35.3" height="58.29" fill="#ff6060"/>
<rect x="642.75" y="127.5" width="35.3" height="53.65" fill="#43aed5"/>
<line x1="548.4" y1="127.5" x2="684.6" y2="127.5" stroke="#d2d2d2" stroke-width="0.6" stroke-dasharray="1.5 0.4" stroke-opacity="0.9"/>
<line x1="548.4" y1="156.5" x2="684.6" y2="156.5" stroke="#d2d2d2" stroke-width="0.6" stroke-dasharray="1.5 0.4" stroke-opacity="0.9"/>
<line x1="548.4" y1="185.5" x2="684.6" y2="185.5" stroke="#d2d2d2" stroke-width="0.6" stroke-dasharray="1.5 0.4" stroke-opacity="0.9"/>
<line x1="548.4" y1="127.05" x2="548.4" y2="215.0" stroke="#222222" stroke-width="1.15"/>
<line x1="547.9" y1="214.5" x2="684.6" y2="214.5" stroke="#222222" stroke-width="1.0"/>
<line x1="544.6999999999999" y1="127.5" x2="548.4" y2="127.5" stroke="#222222" stroke-width="0.9"/>
<text x="542.0" y="130.8" font-size="9.3" fill="#262626" text-anchor="end" textLength="5.1" lengthAdjust="spacingAndGlyphs">0</text>
<line x1="544.6999999999999" y1="156.5" x2="548.4" y2="156.5" stroke="#222222" stroke-width="0.9"/>
<text x="542.0" y="159.8" font-size="9.3" fill="#262626" text-anchor="end" textLength="15.0" lengthAdjust="spacingAndGlyphs">−10</text>
<line x1="544.6999999999999" y1="185.5" x2="548.4" y2="185.5" stroke="#222222" stroke-width="0.9"/>
<text x="542.0" y="188.8" font-size="9.3" fill="#262626" text-anchor="end" textLength="15.0" lengthAdjust="spacingAndGlyphs">−20</text>
<line x1="544.6999999999999" y1="214.5" x2="548.4" y2="214.5" stroke="#222222" stroke-width="0.9"/>
<text x="542.0" y="217.8" font-size="9.3" fill="#262626" text-anchor="end" textLength="15.0" lengthAdjust="spacingAndGlyphs">−30</text>
<line x1="571.8" y1="214.5" x2="571.8" y2="217.4" stroke="#222222" stroke-width="0.8"/>
<line x1="660.4" y1="214.5" x2="660.4" y2="217.4" stroke="#222222" stroke-width="0.8"/>
<text x="551.3" y="126.6" font-size="10.0" fill="#000" text-anchor="start" font-weight="bold" textLength="44.3" lengthAdjust="spacingAndGlyphs">Fortaleza</text>
<text x="357.6" y="170.9" font-size="8.2" fill="#222" text-anchor="middle" textLength="75.8" lengthAdjust="spacingAndGlyphs" transform="rotate(-90 357.6 170.9)">Internet decrease (%)</text>
<rect x="390.85" y="232.2" width="35.3" height="84.68" fill="#ff6060"/>
<rect x="479.15" y="232.2" width="35.3" height="58.29" fill="#43aed5"/>
<line x1="384.7" y1="232.2" x2="520.6" y2="232.2" stroke="#d2d2d2" stroke-width="0.6" stroke-dasharray="1.5 0.4" stroke-opacity="0.9"/>
<line x1="384.7" y1="261.2" x2="520.6" y2="261.2" stroke="#d2d2d2" stroke-width="0.6" stroke-dasharray="1.5 0.4" stroke-opacity="0.9"/>
<line x1="384.7" y1="290.2" x2="520.6" y2="290.2" stroke="#d2d2d2" stroke-width="0.6" stroke-dasharray="1.5 0.4" stroke-opacity="0.9"/>
<line x1="384.7" y1="231.75" x2="384.7" y2="319.7" stroke="#222222" stroke-width="1.15"/>
<line x1="384.2" y1="319.2" x2="520.6" y2="319.2" stroke="#222222" stroke-width="1.0"/>
<line x1="381.0" y1="232.2" x2="384.7" y2="232.2" stroke="#222222" stroke-width="0.9"/>
<text x="378.3" y="235.5" font-size="9.3" fill="#262626" text-anchor="end" textLength="5.1" lengthAdjust="spacingAndGlyphs">0</text>
<line x1="381.0" y1="261.2" x2="384.7" y2="261.2" stroke="#222222" stroke-width="0.9"/>
<text x="378.3" y="264.5" font-size="9.3" fill="#262626" text-anchor="end" textLength="15.0" lengthAdjust="spacingAndGlyphs">−10</text>
<line x1="381.0" y1="290.2" x2="384.7" y2="290.2" stroke="#222222" stroke-width="0.9"/>
<text x="378.3" y="293.5" font-size="9.3" fill="#262626" text-anchor="end" textLength="15.0" lengthAdjust="spacingAndGlyphs">−20</text>
<line x1="381.0" y1="319.2" x2="384.7" y2="319.2" stroke="#222222" stroke-width="0.9"/>
<text x="378.3" y="322.5" font-size="9.3" fill="#262626" text-anchor="end" textLength="15.0" lengthAdjust="spacingAndGlyphs">−30</text>
<line x1="408.5" y1="319.2" x2="408.5" y2="322.09999999999997" stroke="#222222" stroke-width="0.8"/>
<line x1="496.8" y1="319.2" x2="496.8" y2="322.09999999999997" stroke="#222222" stroke-width="0.8"/>
<text x="387.6" y="231.3" font-size="10.0" fill="#000" text-anchor="start" font-weight="bold" textLength="37.8" lengthAdjust="spacingAndGlyphs">Manaus</text>
<text x="408.4" y="331.5" font-size="8.5" fill="#222" text-anchor="middle" textLength="55.3" lengthAdjust="spacingAndGlyphs">bottom quartile</text>
<text x="496.8" y="331.5" font-size="8.5" fill="#222" text-anchor="middle" textLength="40.8" lengthAdjust="spacingAndGlyphs">top quartile</text>
<text x="452.45" y="341.35" font-size="6.6" fill="#222" text-anchor="middle" textLength="12.3" lengthAdjust="spacingAndGlyphs">RWI</text>
<rect x="554.15" y="232.2" width="35.3" height="27.55" fill="#ff6060"/>
<rect x="642.75" y="232.2" width="35.3" height="34.8" fill="#43aed5"/>
<line x1="548.4" y1="232.2" x2="684.6" y2="232.2" stroke="#d2d2d2" stroke-width="0.6" stroke-dasharray="1.5 0.4" stroke-opacity="0.9"/>
<line x1="548.4" y1="261.2" x2="684.6" y2="261.2" stroke="#d2d2d2" stroke-width="0.6" stroke-dasharray="1.5 0.4" stroke-opacity="0.9"/>
<line x1="548.4" y1="290.2" x2="684.6" y2="290.2" stroke="#d2d2d2" stroke-width="0.6" stroke-dasharray="1.5 0.4" stroke-opacity="0.9"/>
<line x1="548.4" y1="231.75" x2="548.4" y2="319.7" stroke="#222222" stroke-width="1.15"/>
<line x1="547.9" y1="319.2" x2="684.6" y2="319.2" stroke="#222222" stroke-width="1.0"/>
<line x1="544.6999999999999" y1="232.2" x2="548.4" y2="232.2" stroke="#222222" stroke-width="0.9"/>
<text x="542.0" y="235.5" font-size="9.3" fill="#262626" text-anchor="end" textLength="5.1" lengthAdjust="spacingAndGlyphs">0</text>
<line x1="544.6999999999999" y1="261.2" x2="548.4" y2="261.2" stroke="#222222" stroke-width="0.9"/>
<text x="542.0" y="264.5" font-size="9.3" fill="#262626" text-anchor="end" textLength="15.0" lengthAdjust="spacingAndGlyphs">−10</text>
<line x1="544.6999999999999" y1="290.2" x2="548.4" y2="290.2" stroke="#222222" stroke-width="0.9"/>
<text x="542.0" y="293.5" font-size="9.3" fill="#262626" text-anchor="end" textLength="15.0" lengthAdjust="spacingAndGlyphs">−20</text>
<line x1="544.6999999999999" y1="319.2" x2="548.4" y2="319.2" stroke="#222222" stroke-width="0.9"/>
<text x="542.0" y="322.5" font-size="9.3" fill="#262626" text-anchor="end" textLength="15.0" lengthAdjust="spacingAndGlyphs">−30</text>
<line x1="571.8" y1="319.2" x2="571.8" y2="322.09999999999997" stroke="#222222" stroke-width="0.8"/>
<line x1="660.4" y1="319.2" x2="660.4" y2="322.09999999999997" stroke="#222222" stroke-width="0.8"/>
<text x="551.3" y="231.3" font-size="10.0" fill="#000" text-anchor="start" font-weight="bold" textLength="35.8" lengthAdjust="spacingAndGlyphs">Brasilia</text>
<text x="571.6999999999999" y="331.5" font-size="8.5" fill="#222" text-anchor="middle" textLength="55.3" lengthAdjust="spacingAndGlyphs">bottom quartile</text>
<text x="660.4" y="331.5" font-size="8.5" fill="#222" text-anchor="middle" textLength="40.8" lengthAdjust="spacingAndGlyphs">top quartile</text>
<text x="616.3" y="341.35" font-size="6.6" fill="#222" text-anchor="middle" textLength="12.3" lengthAdjust="spacingAndGlyphs">RWI</text>
<text x="357.6" y="275.6" font-size="8.2" fill="#222" text-anchor="middle" textLength="75.8" lengthAdjust="spacingAndGlyphs" transform="rotate(-90 357.6 275.6)">Internet decrease (%)</text>
</svg>
</body></html>
